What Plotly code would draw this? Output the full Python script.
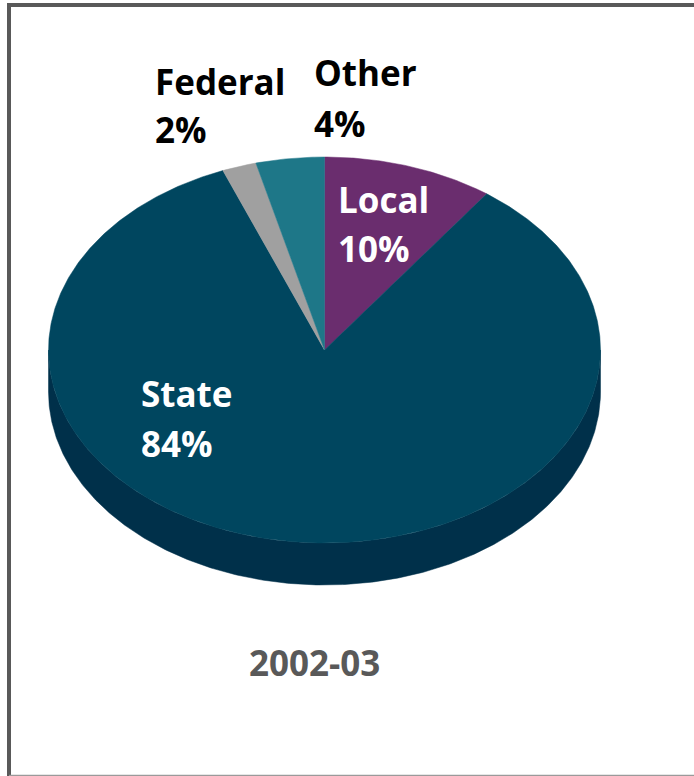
import numpy as np
import plotly.graph_objects as go

# ---- data ----
categories = ["Local", "State", "Federal", "Other"]
values = [10, 84, 2, 4]
title_text = "2002-03"

# ---- style ----
top_colors = {"Local": "#6A2D6E", "State": "#00465F", "Federal": "#A0A0A0", "Other": "#1E7788"}
side_colors = {"Local": "#4A1F4D", "State": "#00304A", "Federal": "#707070", "Other": "#15535F"}
label_colors = {"Local": "white", "State": "white", "Federal": "black", "Other": "black"}
FONT = "Open Sans, Arial, sans-serif"

W, H = 694, 776
cx, cy, rx, ry, depth = 324.5, 350.0, 276.0, 193.0, 42.0


def pt(theta_deg, dy=0.0):
    t = np.radians(theta_deg)
    return cx + rx * np.sin(t), cy - ry * np.cos(t) + dy


def arc(a0, a1, dy=0.0, n=None):
    if n is None:
        n = max(4, int(abs(a1 - a0) * 2))
    th = np.linspace(a0, a1, n)
    xs, ys = pt(th, dy)
    return list(xs), list(ys)


total = float(sum(values))
angles = []
acc = 0.0
for v in values:
    a0 = acc / total * 360.0
    acc += v
    a1 = acc / total * 360.0
    angles.append((a0, a1))

fig = go.Figure()

# side (3D depth) for front-facing part: theta in [90, 270]
for cat, (a0, a1) in zip(categories, angles):
    s0, s1 = max(a0, 90.0), min(a1, 270.0)
    if s1 <= s0:
        continue
    xt, yt = arc(s0, s1)
    xb, yb = arc(s1, s0, dy=depth)
    fig.add_trace(go.Scatter(x=xt + xb + [xt[0]], y=yt + yb + [yt[0]], mode="lines",
                             fill="toself", fillcolor=side_colors[cat],
                             line=dict(width=0.5, color=side_colors[cat]),
                             hoverinfo="skip", showlegend=False))

# top faces
for cat, v, (a0, a1) in zip(categories, values, angles):
    xs, ys = arc(a0, a1)
    px = [cx] + xs + [cx]
    py = [cy] + ys + [cy]
    fig.add_trace(go.Scatter(x=px, y=py, mode="lines", fill="toself",
                             fillcolor=top_colors[cat],
                             line=dict(width=0.5, color=top_colors[cat]),
                             name=cat, text=f"{cat}: {v}%", hoverinfo="text",
                             showlegend=False))

# labels (name line / percent line)
label_pos = {
    "Federal": (153, 81, 129),
    "Other": (312, 72, 123),
    "Local": (336, 199, 248),
    "State": (139, 393, 443),
}
for cat, v in zip(categories, values):
    x0, y1, y2 = label_pos[cat]
    for txt, yy in ((cat, y1), (f"{v}%", y2)):
        fig.add_annotation(x=x0, y=yy, xref="x", yref="y", text=f"<b>{txt}</b>",
                           showarrow=False, xanchor="left", yanchor="middle",
                           font=dict(family=FONT, size=35, color=label_colors[cat]))

fig.add_annotation(x=314, y=662, xref="x", yref="y", text=f"<b>{title_text}</b>",
                   showarrow=False, xanchor="center", yanchor="middle",
                   font=dict(family=FONT, size=35, color="#595959"))

# frame
fig.add_shape(type="line", x0=9, x1=9, y0=3, y1=776, xref="x", yref="y",
              line=dict(color="#595959", width=4))
fig.add_shape(type="line", x0=7, x1=694, y0=5, y1=5, xref="x", yref="y",
              line=dict(color="#595959", width=4))
fig.add_shape(type="line", x0=9, x1=694, y0=775.5, y1=775.5, xref="x", yref="y",
              line=dict(color="#9a9a9a", width=1.5))

fig.update_layout(
    width=W, height=H,
    margin=dict(l=0, r=0, t=0, b=0),
    paper_bgcolor="white", plot_bgcolor="white",
    xaxis=dict(range=[0, W], visible=False, fixedrange=True),
    yaxis=dict(range=[H, 0], visible=False, fixedrange=True),
    showlegend=False,
)

fig.write_html("out.html")
